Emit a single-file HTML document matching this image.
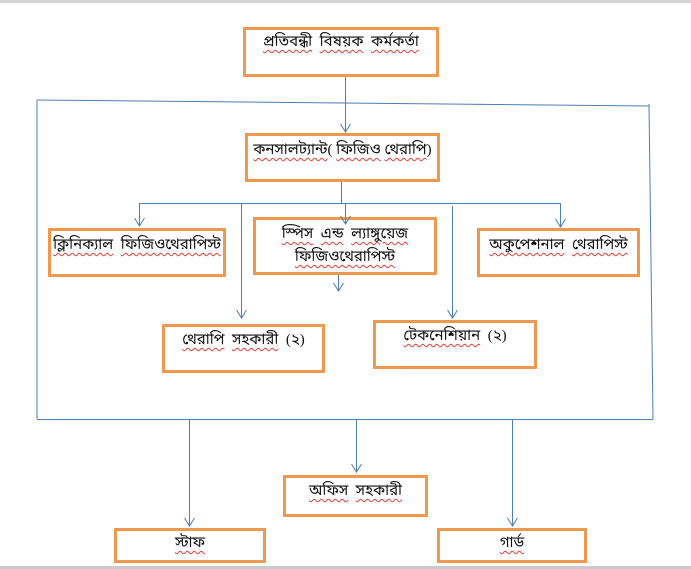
<!DOCTYPE html>
<html>
<head>
<meta charset="utf-8">
<style>
  html,body{margin:0;padding:0;}
  body{width:691px;height:569px;position:relative;background:#fff;overflow:hidden;
       font-family:"Liberation Serif","Noto Sans Bengali","Lohit Bengali","FreeSerif",serif;}
  .topbar{position:absolute;left:0;top:0;width:691px;height:3px;background:#d2d4d8;}
  .botbar{position:absolute;left:0;top:566px;width:691px;height:3px;background:#c8cacd;}
  .box{position:absolute;box-sizing:border-box;border:3px solid #ef984f;background:#fff;}
  .lbl{position:absolute;text-align:center;font-size:15px;line-height:20px;color:#111;white-space:nowrap;}
  .lbl span{text-decoration:underline wavy #e0403a;text-decoration-thickness:1px;text-underline-offset:3px;}
  svg{position:absolute;left:0;top:0;}
</style>
</head>
<body>
<div class="topbar"></div>
<div class="botbar"></div>

<!-- boxes -->
<div class="box" style="left:243px;top:27px;width:196px;height:50px;"></div>
<div class="box" style="left:245px;top:133px;width:195px;height:49px;"></div>
<div class="box" style="left:48px;top:228px;width:178px;height:49px;"></div>
<div class="box" style="left:253px;top:217px;width:184px;height:58px;"></div>
<div class="box" style="left:477px;top:228px;width:163px;height:49px;"></div>
<div class="box" style="left:162px;top:324px;width:163px;height:49px;"></div>
<div class="box" style="left:373px;top:320px;width:164px;height:49px;"></div>
<div class="box" style="left:283px;top:475px;width:145px;height:42px;"></div>
<div class="box" style="left:114px;top:528px;width:152px;height:35px;"></div>
<div class="box" style="left:437px;top:528px;width:150px;height:35px;"></div>

<!-- connectors -->
<svg width="691" height="569" viewBox="0 0 691 569">
  <g stroke="#4f7db5" stroke-width="1" fill="none">
    <!-- big frame -->
    <line x1="37" y1="100" x2="649" y2="106"/>
    <line x1="37" y1="100" x2="37" y2="419"/>
    <line x1="649" y1="104" x2="653" y2="419"/>
    <line x1="37" y1="419.5" x2="653" y2="419.5"/>
    <!-- top to box2 -->
    <line x1="345.5" y1="77" x2="345.5" y2="132"/>
    <polyline points="340.5,124 345.5,132 350.5,124"/>
    <!-- box2 down to bus -->
    <line x1="341.5" y1="182" x2="341.5" y2="203"/>
    <line x1="139" y1="203.5" x2="561" y2="203.5"/>
    <!-- branch arrows -->
    <line x1="139.5" y1="203" x2="139.5" y2="226"/>
    <polyline points="134.5,218 139.5,226 144.5,218"/>
    <line x1="241.5" y1="203" x2="241.5" y2="318"/>
    <polyline points="236.5,310 241.5,318 246.5,310"/>
    <line x1="345.5" y1="203" x2="345.5" y2="224"/>
    <polyline points="340.5,216 345.5,224 350.5,216"/>
    <line x1="338.5" y1="275" x2="338.5" y2="291"/>
    <polyline points="333.5,283 338.5,291 343.5,283"/>
    <line x1="452.5" y1="206" x2="452.5" y2="318"/>
    <polyline points="447.5,310 452.5,318 457.5,310"/>
    <line x1="560.5" y1="203" x2="560.5" y2="227"/>
    <polyline points="555.5,219 560.5,227 565.5,219"/>
    <!-- bottom arrows -->
    <line x1="189.5" y1="420" x2="189.5" y2="526"/>
    <polyline points="184.5,518 189.5,526 194.5,518"/>
    <line x1="356.5" y1="420" x2="356.5" y2="472"/>
    <polyline points="351.5,464 356.5,472 361.5,464"/>
    <line x1="512.5" y1="420" x2="512.5" y2="526"/>
    <polyline points="507.5,518 512.5,526 517.5,518"/>
  </g>
</svg>

<!-- labels -->
<div class="lbl" style="left:243px;width:196px;top:32px;"><span>প্রতিবন্ধী</span>&nbsp; <span>বিষয়ক</span>&nbsp; <span>কর্মকর্তা</span></div>
<div class="lbl" style="left:245px;width:195px;top:140px;"><span>কনসালট্যান্ট</span>( <span>ফিজিও</span> <span>থেরাপি</span>)</div>
<div class="lbl" style="left:48px;width:178px;top:235px;"><span>ক্লিনিক্যাল</span>&nbsp; <span>ফিজিওথেরাপিস্ট</span></div>
<div class="lbl" style="left:253px;width:184px;top:223px;line-height:23px;"><span>স্পিস</span>&nbsp; <span>এন্ড</span>&nbsp; <span>ল্যাঙ্গুয়েজ</span><br><span>ফিজিওথেরাপিস্ট</span></div>
<div class="lbl" style="left:477px;width:163px;top:235px;"><span>অকুপেশনাল</span>&nbsp; <span>থেরাপিস্ট</span></div>
<div class="lbl" style="left:162px;width:163px;top:330px;"><span>থেরাপি</span>&nbsp; <span>সহকারী</span>&nbsp; (২)</div>
<div class="lbl" style="left:373px;width:164px;top:326px;"><span>টেকনেশিয়ান</span>&nbsp; (২)</div>
<div class="lbl" style="left:283px;width:145px;top:481px;"><span>অফিস</span>&nbsp; <span>সহকারী</span></div>
<div class="lbl" style="left:114px;width:152px;top:533px;"><span>স্টাফ</span></div>
<div class="lbl" style="left:437px;width:150px;top:533px;"><span>গার্ড</span></div>
</body>
</html>
